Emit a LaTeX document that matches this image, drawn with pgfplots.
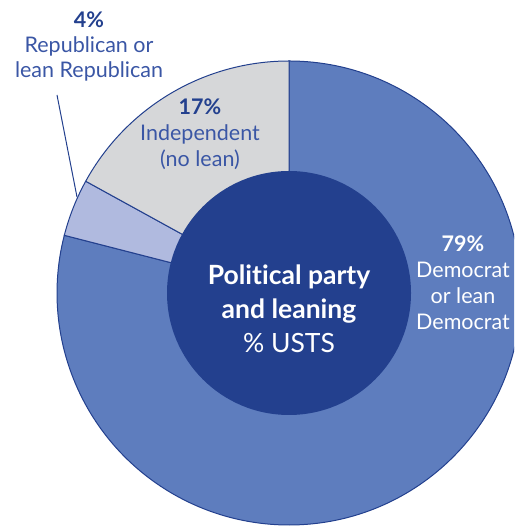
\documentclass[border=0pt]{standalone}
\usepackage{pgfplots}
\usepackage{pgfplotstable}
\pgfplotsset{compat=1.18}
\usepackage{fontspec}
\setmainfont{Lato}[Ligatures=NoCommon]
\definecolor{dem}{HTML}{5E7DBE}
\definecolor{rep}{HTML}{B0BADF}
\definecolor{ind}{HTML}{D6D7D9}
\definecolor{navy}{HTML}{23408E}
\definecolor{lbl}{HTML}{3A56A5}
\pgfplotstableread{
party value
Democrat 79
Republican 4
Independent 17
}\partytbl
\begin{document}
\begin{tikzpicture}
\useasboundingbox (0,0) rectangle (514pt,526pt);
\clip (0,0) rectangle (514pt,526pt);
\pgfplotstablegetelem{0}{value}\of\partytbl \let\vD\pgfplotsretval
\pgfplotstablegetelem{1}{value}\of\partytbl \let\vR\pgfplotsretval
\pgfplotstablegetelem{2}{value}\of\partytbl \let\vI\pgfplotsretval
\pgfmathsetmacro{\aA}{90}
\pgfmathsetmacro{\aB}{\aA-3.6*\vD}
\pgfmathsetmacro{\aC}{\aB-3.6*\vR}
\pgfmathsetmacro{\aD}{\aC-3.6*\vI}
\begin{axis}[x=1pt,y=1pt,xmin=0,xmax=514,ymin=0,ymax=526,hide axis,clip=false,anchor=origin,at={(0,0)}]
\addplot[draw=none] coordinates {(0,0) (514,526)};
\filldraw[fill=dem,draw=navy,line width=1pt] (axis cs:289,233) -- ++(\aA:232pt) arc[start angle=\aA,end angle=\aB,radius=232pt] -- cycle;
\filldraw[fill=rep,draw=navy,line width=1pt] (axis cs:289,233) -- ++(\aB:232pt) arc[start angle=\aB,end angle=\aC,radius=232pt] -- cycle;
\filldraw[fill=ind,draw=navy,line width=1pt] (axis cs:289,233) -- ++(\aC:232pt) arc[start angle=\aC,end angle=\aD,radius=232pt] -- cycle;
\fill[navy] (axis cs:289,233) circle[radius=122pt];
\draw[navy,line width=1pt] (axis cs:57,431) -- (axis cs:77,329);
\node[align=center,font=\fontsize{21.5}{25}\selectfont,text=lbl] at (axis cs:89,479)
  {\textbf{\color{navy}4\%}\\Republican or\\lean Republican};
\node[align=center,font=\fontsize{21.5}{26}\selectfont,text=lbl] at (axis cs:200,392)
  {\textbf{\color{navy}17\%}\\Independent\\(no lean)};
\node[align=center,font=\fontsize{21.5}{26}\selectfont,text=white] at (axis cs:463,243)
  {\textbf{79\%}\\Democrat\\or lean\\Democrat};
\node[align=center,font=\fontsize{26.5}{34}\selectfont,text=white] at (axis cs:289,217)
  {\textbf{Political party}\\\textbf{and leaning}\\\% USTS};
\end{axis}
\end{tikzpicture}
\end{document}
